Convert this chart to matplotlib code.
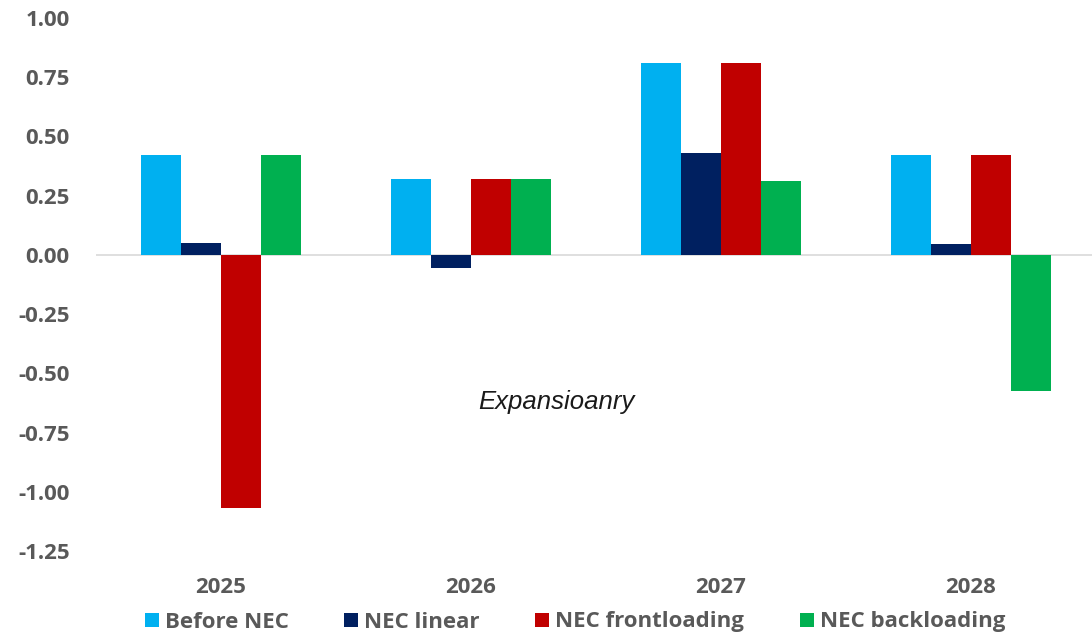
import matplotlib
matplotlib.use("Agg")
import matplotlib.pyplot as plt
import numpy as np
from matplotlib.lines import Line2D

years = ["2025", "2026", "2027", "2028"]
series_names = ["Before NEC", "NEC linear", "NEC frontloading", "NEC backloading"]
before_nec = [0.42, 0.32, 0.81, 0.42]
nec_linear = [0.05, -0.055, 0.43, 0.045]
nec_frontloading = [-1.07, 0.32, 0.81, 0.42]
nec_backloading = [0.42, 0.32, 0.31, -0.575]
colors = ["#00B0F0", "#002060", "#C00000", "#00B050"]
y_ticks = [1.00, 0.75, 0.50, 0.25, 0.00, -0.25, -0.50, -0.75, -1.00, -1.25]

plt.rcParams["font.family"] = ["Open Sans", "DejaVu Sans"]

fig = plt.figure(figsize=(10.92, 6.38), dpi=100)
ax = fig.add_axes([96 / 1092, 87 / 638, 1000 / 1092, (551 - 18) / 638])

x = np.arange(len(years))
width = 0.16
all_series = [before_nec, nec_linear, nec_frontloading, nec_backloading]
for i, (vals, c) in enumerate(zip(all_series, colors)):
    ax.bar(x + (i - 1.5) * width, vals, width, color=c, linewidth=0, zorder=2)

ax.axhline(0, color="#d9d9d9", linewidth=1.2, zorder=1)
ax.set_xlim(-0.5, 3.5)
ax.set_ylim(-1.25, 1.0)

for s in ax.spines.values():
    s.set_visible(False)

text_color = "#595959"
ax.set_yticks(y_ticks)
ax.set_yticklabels([f"{v:.2f}" for v in y_ticks], fontsize=16, fontweight="bold", color=text_color)
ax.set_xticks(x)
ax.set_xticklabels(years, fontsize=16, fontweight="bold", color=text_color)
ax.tick_params(axis="both", length=0)
ax.tick_params(axis="y", pad=19)
ax.tick_params(axis="x", pad=19)

ax.text(1.34, -0.62, "Expansioanry", fontsize=18.5, style="italic", color="#1a1a1a",
        family=["Liberation Sans", "DejaVu Sans"], ha="center", va="center")

handles = [Line2D([0], [0], marker="s", linestyle="none", markersize=9.5,
                  markerfacecolor=c, markeredgewidth=0) for c in colors]
leg = fig.legend(handles, series_names, loc="center", ncol=4,
                 bbox_to_anchor=(574 / 1092, 1 - 622 / 638), frameon=False,
                 handletextpad=0.2, columnspacing=2.4, handlelength=0.8,
                 prop={"size": 16, "weight": "bold"})
for t in leg.get_texts():
    t.set_color(text_color)

fig.savefig("out.png", dpi=100, facecolor="white")
